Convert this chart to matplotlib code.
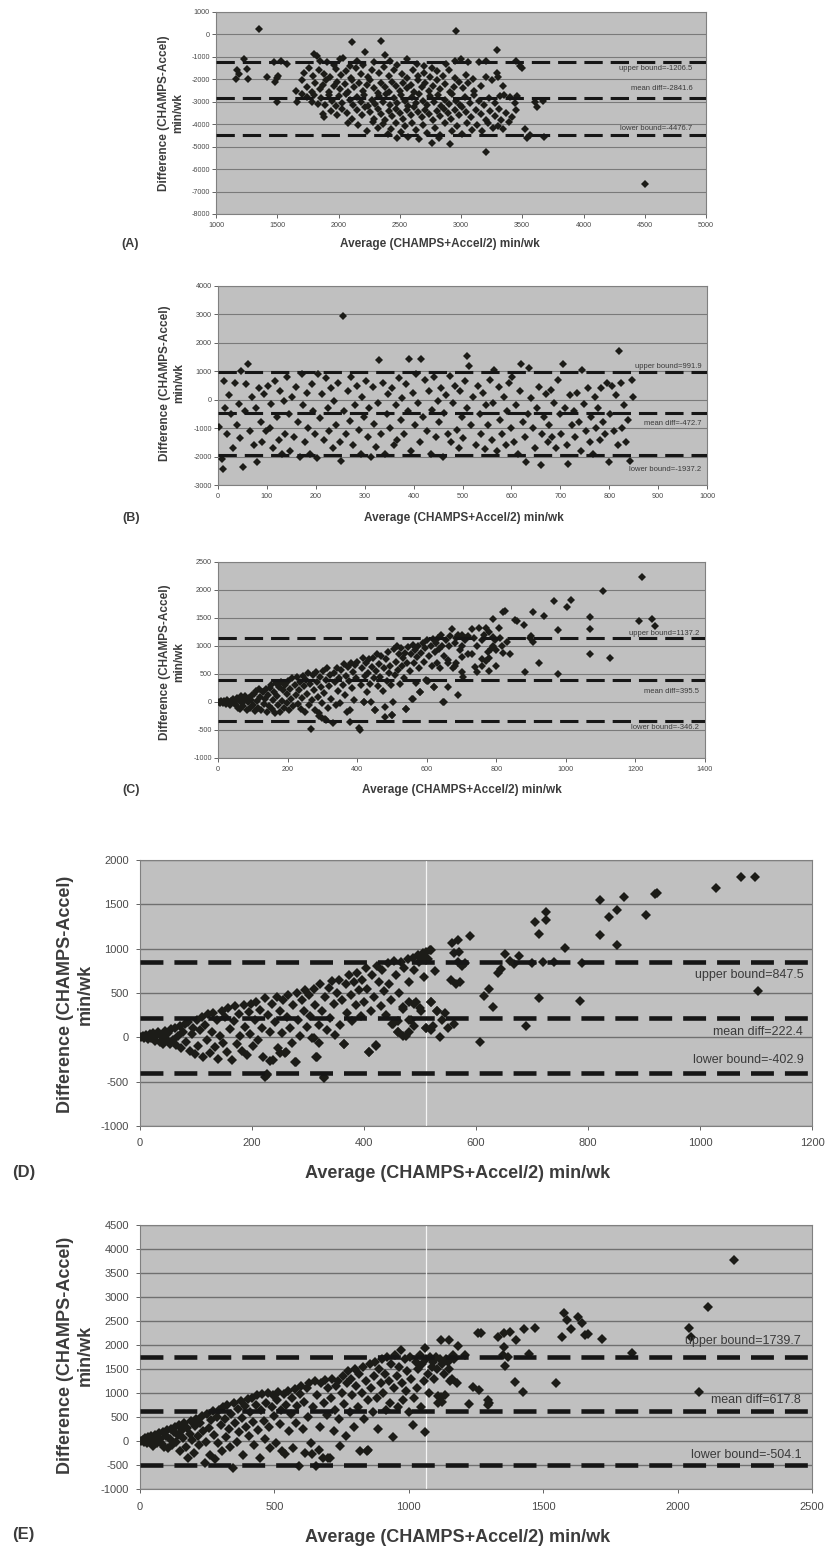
import matplotlib.pyplot as plt
import numpy as np

plt.rcParams['font.family'] = ['Liberation Sans', 'DejaVu Sans']
plt.rcParams['axes.unicode_minus'] = False

# ---------------- data ----------------
# (A) average vs difference, min/wk
a_points = [
    (1350, 250), (2960, 150), (2110, -350), (2350, -300), (2220, -800), (3290, -700),
    (4500, -6650), (3200, -5250), (1230, -1100), (1170, -1600), (1160, -2000), (1190, -1750),
    (1260, -2000), (1250, -1550), (1420, -1900), (1480, -2100), (1500, -1950), (1510, -1850),
    (1500, -3000), (1470, -1250), (1530, -1200), (1580, -1300), (3520, -4200), (3540, -4600),
    (3560, -4500), (3620, -3250), (3600, -3000), (3670, -2950), (3680, -4550), (3450, -1200),
    (3480, -1400), (3500, -1500),
    (1800, -880), (1825, -950), (1850, -1200), (1905, -1250), (1960, -1350), (2010, -1100),
    (2040, -1050), (2090, -1400), (2150, -1200), (2200, -1350), (2290, -1250), (2380, -900),
    (2420, -1200), (2480, -1350), (2560, -1100), (2640, -1300), (2700, -1400), (2760, -1500),
    (2880, -1300), (2950, -1200), (3000, -1100), (3060, -1250), (3150, -1250), (3200, -1200),
    (1720, -1700), (1760, -1500), (1790, -1850), (1840, -1600), (1880, -1750), (1930, -1900),
    (1980, -1550), (2020, -1800), (2060, -1650), (2100, -1950), (2140, -1500), (2180, -1750),
    (2240, -1900), (2270, -1600), (2330, -1700), (2370, -1450), (2410, -1850), (2450, -1600),
    (2520, -1750), (2560, -1950), (2610, -1600), (2650, -1850), (2700, -1700), (2750, -1900),
    (2800, -1650), (2850, -1850), (2900, -1600), (2950, -1950), (3040, -1800), (3100, -2000),
    (3200, -1900), (3290, -1700), (3300, -1900),
    (1650, -2500), (1700, -2050), (1740, -2350), (1780, -2550), (1810, -2150), (1850, -2450),
    (1870, -2250), (1900, -2050), (1920, -2550), (1960, -2300), (1990, -2100), (2010, -2450),
    (2050, -2200), (2080, -2550), (2110, -2050), (2130, -2350), (2170, -2150), (2200, -2500),
    (2230, -2250), (2260, -2050), (2290, -2400), (2320, -2600), (2350, -2150), (2380, -2350),
    (2410, -2550), (2440, -2100), (2470, -2300), (2500, -2500), (2530, -2150), (2560, -2400),
    (2590, -2250), (2620, -2550), (2650, -2050), (2680, -2350), (2710, -2150), (2740, -2500),
    (2770, -2300), (2800, -2050), (2830, -2450), (2870, -2200), (2910, -2550), (2940, -2350),
    (2980, -2100), (3020, -2400), (3060, -2150), (3110, -2500), (3160, -2300), (3250, -2050),
    (3340, -2300),
    (1660, -3000), (1700, -2650), (1740, -2800), (1780, -3000), (1800, -2700), (1830, -3100),
    (1860, -2850), (1890, -3150), (1920, -2700), (1950, -2950), (1980, -3200), (2000, -2750),
    (2030, -3050), (2060, -2650), (2090, -2900), (2120, -3150), (2150, -2800), (2180, -3000),
    (2210, -2700), (2240, -3200), (2270, -2900), (2300, -3100), (2330, -2750), (2360, -3000),
    (2390, -2650), (2420, -3150), (2450, -2850), (2480, -3050), (2510, -2700), (2540, -2950),
    (2570, -3200), (2600, -2800), (2630, -3050), (2660, -2650), (2690, -2950), (2720, -3150),
    (2750, -2750), (2780, -3000), (2810, -2700), (2840, -3200), (2870, -2900), (2900, -3100),
    (2930, -2650), (2960, -2950), (2990, -3150), (3030, -2800), (3070, -3050), (3110, -2700),
    (3150, -2950), (3190, -3150), (3230, -2850), (3280, -3050), (3320, -2750), (3350, -2700),
    (3400, -2800), (3440, -3050), (3460, -2750),
    (1870, -3550), (1880, -3700), (1940, -3400), (1990, -3600), (2030, -3300), (2070, -3500),
    (2110, -3750), (2150, -3350), (2190, -3600), (2220, -3250), (2260, -3450), (2290, -3750),
    (2320, -3300), (2350, -3550), (2380, -3800), (2410, -3400), (2440, -3650), (2470, -3300),
    (2500, -3500), (2530, -3750), (2560, -3350), (2590, -3600), (2620, -3250), (2650, -3450),
    (2680, -3700), (2710, -3350), (2740, -3550), (2770, -3800), (2800, -3400), (2830, -3650),
    (2860, -3300), (2890, -3500), (2920, -3750), (2950, -3350), (2980, -3600), (3010, -3250),
    (3040, -3450), (3080, -3700), (3120, -3350), (3160, -3550), (3200, -3800), (3240, -3400),
    (3280, -3650), (3310, -3300), (3330, -3800), (3370, -3500), (3420, -3700), (3450, -3350),
    (2080, -3950), (2160, -4050), (2230, -4300), (2280, -3900), (2320, -4150), (2360, -4000),
    (2400, -4450), (2430, -4200), (2470, -3950), (2510, -4350), (2540, -4100), (2570, -4550),
    (2600, -3950), (2630, -4250), (2660, -4650), (2690, -4050), (2720, -4400), (2760, -4850),
    (2790, -4150), (2830, -4500), (2870, -3950), (2910, -4900), (2930, -4300), (2970, -4100),
    (3010, -4450), (3050, -3950), (3090, -4250), (3130, -4050), (3170, -4300), (3220, -3950),
    (3260, -4150), (3300, -4100), (3340, -4200), (3390, -3900), (2820, -4600), (2480, -4600),
]
a_bounds = [-1206.5, -2841.6, -4476.7]
a_bound_text = ['upper bound=-1206.5', 'mean diff=-2841.6', 'lower bound=-4476.7']

# (B)
b_points = [
    (3, -950), (8, -2100), (12, 650), (15, -300), (19, -1200), (22, 150), (10, -2450),
    (27, -500), (31, -1700), (35, 600), (38, -900), (42, -150), (46, -1350), (48, 1000),
    (52, -2350), (55, -400), (58, 550), (62, 1250), (66, -1100), (70, 100), (73, -1600),
    (77, -300), (80, -2200), (84, 400), (88, -800), (91, -1500), (95, 200), (98, -1100),
    (102, 500), (106, -1000), (109, -150), (113, -1700), (117, 650), (120, -600), (124, -1400),
    (127, 300), (130, -1900), (134, -50), (137, -1200), (141, 800), (145, -500), (148, -1800),
    (152, 100), (156, -1300), (160, 450), (163, -800), (167, -2000), (171, 900), (174, -200),
    (177, -1500), (181, 250), (184, -1000), (188, -1900), (192, 550), (195, -400), (199, -1200),
    (202, -2050), (205, 900), (209, -650), (213, 200), (216, -1400), (220, 750), (224, -300),
    (227, -1100), (231, 400), (235, -1700), (238, -50), (242, -900), (246, 600), (249, -1500),
    (252, -2150), (255, 2950), (258, -400), (262, -1200), (266, 300), (270, -750), (273, 800),
    (277, -1600), (281, -200), (284, 500), (288, -1050), (292, -1900), (295, 100), (299, -600),
    (302, 650), (306, -1300), (309, -300), (313, -2000), (317, 450), (320, -850), (324, -1650),
    (327, -100), (330, 1380), (334, -1200), (337, 600), (341, -1900), (345, -500), (348, 200),
    (352, -1000), (356, 400), (360, -1600), (363, -200), (367, -1400), (371, 750), (374, -700),
    (377, 50), (381, -1200), (384, 550), (388, -400), (390, 1420), (395, -1800), (398, 250),
    (402, -900), (405, 900), (409, -100), (413, -1500), (415, 1420), (420, -600), (424, 700),
    (427, -1100), (431, 300), (435, -1900), (438, -350), (442, 800), (446, -1300), (449, -50),
    (452, -800), (456, 400), (460, -2000), (463, -450), (467, 150), (471, -1200), (474, 850),
    (477, -1500), (481, -100), (484, 500), (488, -1050), (492, -1700), (495, 300), (499, -600),
    (502, -1350), (506, 650), (509, -300), (510, 1550), (513, 1200), (517, -900), (521, 100),
    (527, -1600), (531, 500), (535, -500), (538, -1200), (542, 250), (546, -1750), (549, -200),
    (552, -900), (556, 700), (560, -1400), (563, -100), (565, 1050), (571, -1800), (574, 450),
    (577, -700), (581, -1200), (584, 100), (588, -1600), (592, -400), (595, 600), (599, -1000),
    (602, 800), (606, -1500), (609, -200), (613, -1900), (617, 300), (620, 1250), (624, -800),
    (627, -1300), (630, -2200), (634, -500), (637, 1100), (641, 50), (645, -1000), (648, -1700),
    (652, -300), (656, 450), (660, -2300), (663, -1200), (667, -600), (671, 200), (674, -1500),
    (677, -900), (681, 350), (684, -1300), (688, -100), (692, -1700), (695, 700), (699, -500),
    (702, -1200), (705, 1250), (709, -300), (713, -1600), (715, -2250), (720, 150), (724, -900),
    (727, -400), (731, -1300), (735, 250), (738, -800), (742, -1800), (745, 1050), (749, -150),
    (752, -1100), (756, 400), (760, -1500), (763, -600), (767, -1900), (771, 100), (774, -1000),
    (777, -300), (781, -1400), (784, 400), (788, -800), (792, -1200), (795, 600), (799, -2200),
    (802, -500), (806, 500), (809, -1100), (813, 150), (817, -1600), (820, 1700), (824, 600),
    (827, -1000), (831, -200), (835, -1500), (838, -700), (842, -2150), (846, 700), (849, 100),
]
b_bounds = [991.9, -472.7, -1937.2]
b_bound_text = ['upper bound=991.9', 'mean diff=-472.7', 'lower bound=-1937.2']

# (C)
c_points = [
    (1220, 2230), (1107, 1980), (967, 1806), (1016, 1830), (1003, 1700), (905, 1600),
    (937, 1533), (820, 1600), (825, 1620), (855, 1462), (860, 1445), (880, 1373),
    (791, 1474), (809, 1314), (1070, 1521), (1070, 1302), (1070, 851), (1210, 1444),
    (1249, 1480), (1255, 1355), (1126, 780), (976, 1284), (976, 501), (924, 697),
    (883, 537), (900, 1180), (897, 1150), (905, 1080), (830, 1070), (820, 870),
    (840, 850), (800, 920), (790, 1000), (780, 780), (770, 740), (760, 760),
    (780, 560), (800, 640), (790, 1160), (780, 1250), (770, 1320), (750, 1330),
    (730, 1300), (720, 850), (730, 850), (700, 540), (650, 0), (672, 1302),
    (480, -260), (450, -150), (420, 0), (380, -140), (500, -230), (560, 50),
    (540, -130), (580, 180), (620, 270), (600, 370), (310, -320), (290, -200), (300, -280),
    (720, 1180), (735, 1150), (745, 1000), (760, 1100), (765, 1200), (775, 900),
    (785, 950), (795, 1100), (810, 1150), (815, 1000), (760, 640), (740, 620),
    (745, 540), (700, 1000), (710, 1100), (690, 1200), (700, 800), (680, 650),
    (685, 700), (660, 700), (665, 1000),
    (3, 5), (6, -10), (10, 20), (14, -25), (18, 10), (22, -30), (26, 40), (30, -5),
    (34, -45), (38, 25), (42, 55), (46, -20), (49, 15),
    (52, -60), (55, 70), (58, -100), (61, 30), (64, -130), (67, 100), (70, -20), (73, -80),
    (76, 60), (79, 110), (82, -150), (85, 0), (88, 80), (91, -110), (94, 40), (97, 120),
    (101, -60), (104, 150), (107, -160), (110, 200), (113, 20), (116, -100), (119, 240),
    (122, 90), (125, -140), (128, 180), (131, -30), (134, 60), (137, 230), (140, -170),
    (143, 130), (146, -70), (149, 250),
    (152, 300), (155, -120), (158, 40), (161, 180), (164, -200), (167, 340), (170, 100),
    (173, -60), (176, 260), (179, -180), (182, 360), (185, 20), (188, 210), (191, -100),
    (194, 310), (197, 150), (199, -10),
    (202, 380), (205, -150), (208, 240), (211, 60), (214, 420), (217, -80), (220, 300),
    (223, 130), (226, 450), (229, -40), (232, 220), (235, 360), (238, -120), (241, 80),
    (244, 470), (247, 280), (249, -180),
    (252, 400), (255, 150), (258, 520), (261, -60), (264, 320), (266, -480), (270, 40),
    (273, 480), (276, 220), (279, -140), (282, 540), (285, 360), (288, 90), (291, -250),
    (294, 450), (297, 260), (299, -20),
    (302, 550), (305, 160), (308, -300), (311, 400), (314, 600), (317, -100), (320, 280),
    (323, 480), (326, 60), (330, -380), (333, 520), (336, 350), (339, -60), (342, 610),
    (345, 200), (348, 420),
    (352, -20), (355, 580), (358, 300), (361, 680), (364, 120), (367, 460), (370, -180),
    (373, 620), (376, 380), (380, -350), (383, 700), (386, 250), (389, 540), (392, 40),
    (395, 660), (398, 430),
    (401, 720), (405, -470), (408, -500), (410, 300), (413, 600), (416, 780), (419, 0),
    (422, 460), (425, 700), (428, 180), (431, 520), (434, 760), (437, 330), (440, 0),
    (443, 620), (446, 790), (449, 420),
    (452, -150), (455, 550), (458, 860), (461, 280), (464, 680), (467, 450), (470, 830),
    (473, 200), (476, 600), (479, -90), (482, 760), (485, 380), (488, 900), (491, 520),
    (494, 640), (497, 300), (499, -230),
    (502, 0), (505, 940), (508, 480), (511, 720), (514, 1000), (517, 580), (520, 850),
    (523, 330), (526, 960), (529, 650), (532, 780), (535, 430), (538, 880), (541, -130),
    (544, 700), (547, 990),
    (552, 550), (555, 850), (558, 50), (561, 1020), (564, 700), (567, 920), (570, 340),
    (573, 800), (576, 1000), (579, 600), (582, 180), (585, 880), (588, 1050), (591, 720),
    (594, 960), (597, 400),
    (602, 1100), (605, 370), (608, 830), (611, 1000), (614, 650), (617, 1130), (620, 270),
    (623, 900), (626, 1060), (629, 700), (632, 1150), (635, 950), (638, 600), (641, 1200),
    (644, 1000), (648, 0), (650, 820),
    (655, 1100), (660, 260), (662, 750), (668, 1180), (675, 600), (680, 1050), (685, 1150),
    (690, 120), (695, 920), (700, 1190), (705, 450), (710, 1150),
]
c_bounds = [1137.2, 395.5, -346.2]
c_bound_text = ['upper bound=1137.2', 'mean diff=395.5', 'lower bound=-346.2']

# (D)
d_points = [
    (1073, 1813), (1098, 1813), (1028, 1682), (919, 1619), (924, 1630), (864, 1578),
    (821, 1544), (904, 1376), (852, 1432), (838, 1357), (821, 1156), (852, 1036),
    (706, 1305), (725, 1417), (725, 1320), (713, 1163), (759, 1010), (590, 1148),
    (568, 1100), (557, 1066), (1103, 517), (712, 442), (786, 408), (690, 129),
    (607, -58), (614, 469), (623, 543), (631, 345), (639, 723), (645, 767), (652, 935),
    (660, 860), (668, 823), (676, 917), (556, 650), (565, 600), (572, 620), (560, 950),
    (570, 960), (568, 850), (575, 800), (580, 840), (550, 100), (560, 150), (535, 0),
    (540, 200), (545, 280), (505, 940), (510, 960), (520, 980), (500, 900), (510, 870),
    (520, 400), (530, 300), (520, 80), (510, 100), (409, -166), (421, -92), (329, -458),
    (315, -223), (224, -447), (226, -410), (278, -281), (233, -262), (250, -180),
    (260, -170), (365, -80), (310, -10), (320, -60), (470, 20), (480, 60), (490, 130),
    (460, 60), (450, 150), (480, 200), (460, 180), (470, 340), (480, 400), (490, 380),
    (500, 330), (720, 850), (700, 840), (740, 850), (790, 840),
    (2, 0), (5, 15), (8, -10), (11, 25), (14, -20), (17, 35), (20, -5), (23, 45),
    (26, -40), (29, 10), (32, 60), (35, -55), (38, 30), (41, -70), (44, 70), (47, -20),
    (50, 50),
    (53, -80), (56, 90), (59, -30), (62, 100), (65, -90), (68, 20), (71, 130), (74, -120),
    (77, 60), (80, 150), (83, -50), (86, 170), (89, -150), (92, 40), (95, 110), (98, -190),
    (101, 200), (104, -100), (107, 80), (110, 230), (113, -220), (116, 140), (119, -30),
    (122, 260), (125, -180), (128, 60), (131, 280), (134, -110), (137, 190), (140, -240),
    (143, 10), (146, 300), (149, -60),
    (152, 230), (155, -170), (158, 330), (161, 90), (164, -250), (167, 180), (170, 350),
    (173, -80), (176, 260), (179, 20), (182, -150), (185, 370), (188, 120), (191, -200),
    (194, 290), (197, 40), (199, 380),
    (202, -100), (205, 200), (208, 400), (211, -30), (214, 310), (217, 110), (220, -220),
    (223, 440), (226, -420), (229, 250), (232, 60), (235, 380), (238, -260), (241, 170),
    (244, 460), (247, -120), (250, 300),
    (253, 50), (256, 420), (259, -180), (262, 230), (265, 480), (268, 110), (271, -60),
    (274, 360), (277, -280), (280, 500), (283, 190), (286, 20), (289, 420), (292, 300),
    (295, 530), (298, 120),
    (301, 480), (304, 240), (307, -10), (310, 550), (313, 360), (316, -220), (319, 140),
    (322, 600), (325, 300), (328, -450), (331, 450), (334, 80), (337, 560), (340, 220),
    (343, 640), (346, 380), (349, 30),
    (352, 500), (355, 650), (358, 140), (361, 420), (364, -80), (367, 600), (370, 280),
    (373, 700), (376, 480), (379, 180), (382, 620), (385, 360), (388, 720), (391, 530),
    (394, 240), (397, 650), (400, 400),
    (403, 780), (406, 550), (409, -170), (412, 300), (415, 700), (418, 460), (421, -100),
    (424, 800), (427, 620), (430, 350), (433, 760), (436, 520), (439, 250), (442, 840),
    (445, 600), (448, 420),
    (451, 150), (454, 860), (457, 700), (460, 60), (463, 500), (466, 850), (469, 320),
    (472, 780), (475, 20), (478, 880), (481, 620), (484, 200), (487, 900), (490, 760),
    (493, 400), (496, 930), (499, 850),
    (502, 300), (505, 950), (508, 680), (511, 100), (514, 880), (517, 980), (520, 400),
    (523, 130), (526, 750), (530, 300),
]
d_bounds = [847.5, 222.4, -402.9]
d_bound_text = ['upper bound=847.5', 'mean diff=222.4', 'lower bound=-402.9']

# (E)
e_points = [
    (2210, 3772), (2114, 2801), (2043, 2364), (2048, 2177), (2078, 1012), (1829, 1830),
    (1720, 2121), (1578, 2662), (1588, 2524), (1602, 2330), (1569, 2170), (1631, 2579),
    (1643, 2454), (1657, 2211), (1665, 2230), (1549, 1206), (1471, 2364), (1427, 2330),
    (1398, 2094), (1378, 2274), (1353, 2246), (1333, 2177), (1355, 1948), (1357, 1553),
    (1394, 1220), (1424, 1012), (1447, 1810), (1350, 1800), (1370, 1750), (1257, 2246),
    (1270, 2246), (1225, 776), (1237, 1123), (1261, 1054), (1294, 859), (1294, 755),
    (1210, 1800), (1182, 1969), (1149, 2108), (1118, 2094), (1123, 804), (1108, 929),
    (847, -195), (700, -350), (1300, 800),
    (5, 0), (10, 30), (15, -20), (20, 60), (25, -40), (30, 80), (35, -10), (40, 110),
    (45, -60), (50, -100), (55, 130), (60, 20), (65, -50), (70, 160), (75, 50), (80, -60),
    (85, 190), (90, -120), (95, 100), (100, 230),
    (105, -150), (110, 40), (115, 260), (120, -80), (125, 180), (130, 300), (135, -30),
    (140, 120), (145, 340), (150, -200), (155, 220), (160, 60), (165, 380), (170, -120),
    (175, 280), (180, -350), (185, 150), (190, 420), (195, 20), (200, -250),
    (205, 320), (210, 460), (215, 100), (220, -80), (225, 380), (230, 520), (235, 200),
    (240, -450), (245, -20), (250, 560), (255, 280), (260, -300), (265, 430), (270, 620),
    (275, 120), (280, -380), (285, 500), (290, -50), (295, 650), (300, 340),
    (305, -200), (310, 700), (315, 450), (320, 80), (325, 740), (330, 250), (335, -120),
    (340, 560), (345, -560), (350, 800), (355, 380), (360, -30), (365, 660), (370, 180),
    (375, 840), (380, 480), (385, -300), (390, 720), (395, 300), (400, 880),
    (405, 100), (410, 600), (415, 900), (420, 400), (425, -80), (430, 760), (435, 960),
    (440, 230), (445, -350), (450, 640), (455, 980), (460, 420), (465, 40), (470, 800),
    (475, 1000), (480, 300), (485, -150), (490, 700), (495, 950), (500, 520),
    (505, -50), (510, 850), (515, 1020), (520, 360), (525, 650), (530, -200), (535, 980),
    (540, -270), (545, 760), (550, 1050), (555, 200), (560, 560), (565, 900), (570, -150),
    (575, 1080), (580, 380), (585, 720), (590, -520), (595, 980), (600, 1150),
    (605, 250), (610, 820), (615, -250), (620, 1100), (625, 500), (630, 1200), (635, -50),
    (640, -280), (645, 700), (650, 1250), (655, -520), (660, 950), (665, -180), (670, 300),
    (675, 1200), (680, -350), (685, 800), (690, 1280), (695, 550), (700, 1100),
    (705, -350), (710, 900), (715, 1300), (720, 200), (725, 650), (730, 1150), (735, 1250),
    (740, 450), (745, -100), (750, 1000), (755, 1350), (760, 780), (765, 100), (770, 1200),
    (775, 1450), (780, 600), (785, 1300), (790, 950), (795, 300), (800, 1500),
    (805, 1150), (810, 700), (815, 1400), (820, -200), (825, 1000), (830, 1550), (835, 450),
    (840, 1250), (845, -200), (850, 850), (855, 1600), (860, 1100), (865, 600), (870, 1350),
    (875, 1650), (880, 900), (885, 250), (890, 1500), (895, 1200), (900, 1700),
    (905, 1000), (910, 1400), (915, 650), (920, 1750), (925, 1250), (930, 800), (935, 1600),
    (940, 80), (945, 1100), (950, 1800), (955, 1350), (960, 700), (965, 1550), (970, 1900),
    (975, 1200), (980, 850), (985, 1700), (990, 1050), (995, 1450), (1000, 600),
    (1005, 1750), (1010, 1300), (1015, 330), (1020, 900), (1025, 1650), (1030, 1100),
    (1035, 1500), (1040, 1800), (1045, 700), (1050, 1600), (1055, 1250), (1060, 180),
    (1060, 1940), (1065, 1700), (1070, 1400), (1075, 1000), (1080, 1750), (1085, 1550),
    (1090, 1650), (1095, 1300),
    (1100, 1750), (1105, 1500), (1110, 800), (1115, 1700), (1120, 920), (1125, 1600),
    (1130, 1400), (1135, 950), (1140, 1700), (1145, 1650), (1150, 1500), (1155, 1250),
    (1160, 1300), (1165, 1800), (1170, 1700), (1180, 1200),
]
e_bounds = [1739.7, 617.8, -504.1]
e_bound_text = ['upper bound=1739.7', 'mean diff=617.8', 'lower bound=-504.1']

y_title = 'Difference (CHAMPS-Accel)\nmin/wk'
x_title = 'Average (CHAMPS+Accel/2) min/wk'

# ---------------- layout (pixel boxes measured on the scan) ----------------
W, H = 827, 1549
fig = plt.figure(figsize=(W / 100, H / 100), dpi=100)


def box(left, top, right, bottom):
    return [left / W, 1 - bottom / H, (right - left) / W, (bottom - top) / H]


panels = [
    dict(tag='(A)', pts=a_points, bounds=a_bounds, btext=a_bound_text,
         text_y=[-1500, -2430, -4170], text_x=0.972,
         rect=box(216, 12, 706, 214), xlim=(1000, 5000), xstep=500,
         ylim=(-8000, 1000), ystep=1000, big=False,
         ylab=(171, 113), xlab=(440, 244), tagpos=(121, 244)),
    dict(tag='(B)', pts=b_points, bounds=b_bounds, btext=b_bound_text,
         text_y=[1180, -820, -2440], text_x=0.988,
         rect=box(218, 286, 707, 485), xlim=(0, 1000), xstep=100,
         ylim=(-3000, 4000), ystep=1000, big=False,
         ylab=(172, 383), xlab=(464, 518), tagpos=(122, 518)),
    dict(tag='(C)', pts=c_points, bounds=c_bounds, btext=c_bound_text,
         text_y=[1230, 180, -460], text_x=0.988,
         rect=box(218, 562, 705, 758), xlim=(0, 1400), xstep=200,
         ylim=(-1000, 2500), ystep=500, big=False,
         ylab=(172, 662), xlab=(462, 790), tagpos=(122, 790)),
    dict(tag='(D)', pts=d_points, bounds=d_bounds, btext=d_bound_text,
         text_y=[700, 60, -255], text_x=0.987,
         rect=box(140, 860, 812, 1126), xlim=(0, 1200), xstep=200,
         ylim=(-1000, 2000), ystep=500, big=True,
         ylab=(75, 994), xlab=(458, 1173), tagpos=(12, 1173)),
    dict(tag='(E)', pts=e_points, bounds=e_bounds, btext=e_bound_text,
         text_y=[2080, 850, -300], text_x=0.984,
         rect=box(140, 1225, 812, 1489), xlim=(0, 2500), xstep=500,
         ylim=(-1000, 4500), ystep=500, big=True,
         ylab=(75, 1355), xlab=(458, 1537), tagpos=(12, 1535)),
]

label_col = '#3c3c3c'
tick_col = '#4a4a4a'

for p in panels:
    big = p['big']
    ax = fig.add_axes(p['rect'])
    ax.set_facecolor('#c0c0c0')
    ax.set_xlim(*p['xlim'])
    ax.set_ylim(*p['ylim'])
    ax.set_xticks(np.arange(p['xlim'][0], p['xlim'][1] + 1, p['xstep']))
    ax.set_yticks(np.arange(p['ylim'][0], p['ylim'][1] + 1, p['ystep']))
    ax.grid(axis='y', color='#6f6f6f' if big else '#7a7a7a', lw=1.0 if big else 0.8)
    ax.set_axisbelow(True)
    for s in ax.spines.values():
        s.set_color('#808080')
        s.set_linewidth(0.8)
    ax.tick_params(axis='both', colors=tick_col, labelsize=8 if big else 5.2,
                   length=3, width=0.6, direction='out')
    ax.tick_params(axis='y', pad=5 if big else 1.5)
    ax.tick_params(axis='x', pad=6 if big else 3)

    xs = [pt[0] for pt in p['pts']]
    ys = [pt[1] for pt in p['pts']]
    ax.plot(xs, ys, ls='none', marker='D', ms=5.6 if big else 3.8,
            mew=0, color='#1c1c18', zorder=3)

    for b, t, ty in zip(p['bounds'], p['btext'], p['text_y']):
        if big:
            ax.axhline(b, color='#161616', lw=3.3, dashes=(5, 2.4), zorder=4)
        else:
            ax.axhline(b, color='#161616', lw=2.2, dashes=(6, 2.6), zorder=4)
        ax.text(p['text_x'], ty, t, transform=ax.get_yaxis_transform(),
                ha='right', va='center', fontsize=9 if big else 5.5, color='#3a3a3a',
                zorder=5)

    if big:
        # white scanner streak through the lower two panels
        ax.plot([0.426, 0.426], [0, 1], transform=ax.transAxes, color='white',
                lw=0.9, alpha=0.85, zorder=2)

    fs = 13 if big else 8.5
    fig.text(p['ylab'][0] / W, 1 - p['ylab'][1] / H, y_title, rotation=90,
             ha='center', va='center', multialignment='center',
             fontsize=fs, fontweight='bold', color=label_col)
    fig.text(p['xlab'][0] / W, 1 - p['xlab'][1] / H, x_title,
             ha='center', va='center', fontsize=fs, fontweight='bold', color=label_col)
    fig.text(p['tagpos'][0] / W, 1 - p['tagpos'][1] / H, p['tag'],
             ha='left', va='center', fontsize=12 if big else 9,
             fontweight='bold', color=label_col)

fig.savefig('out.png', dpi=100, facecolor='white')
